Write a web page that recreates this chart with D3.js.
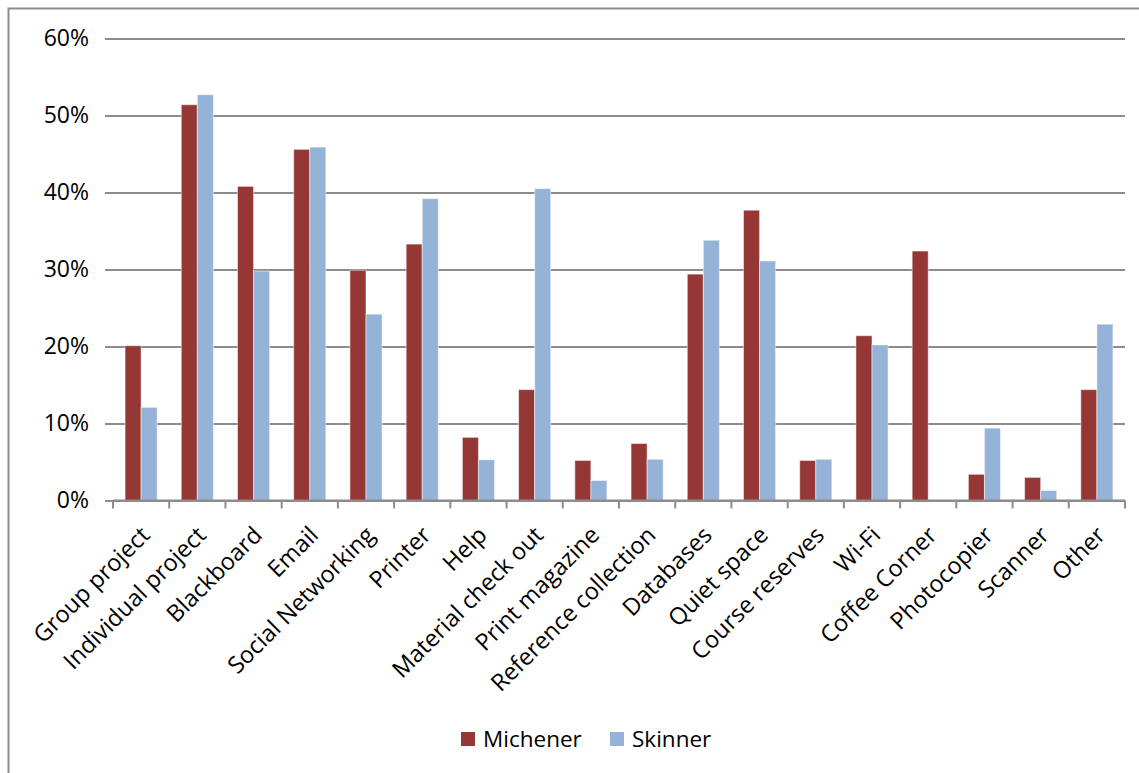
<!DOCTYPE html>
<html>
<head>
<meta charset="utf-8">
<script src="https://cdn.jsdelivr.net/npm/d3@7"></script>
<style>
  body { margin: 0; background: #fff; }
  svg { display: block; }
</style>
</head>
<body>
<div id="vis"></div>
<script>
// values (percent)
let categories = ["Group project", "Individual project", "Blackboard", "Email", "Social Networking",
  "Printer", "Help", "Material check out", "Print magazine", "Reference collection", "Databases",
  "Quiet space", "Course reserves", "Wi-Fi", "Coffee Corner", "Photocopier", "Scanner", "Other"];
let michener = [20.1, 51.4, 40.8, 45.6, 29.9, 33.3, 8.2, 14.4, 5.2, 7.4, 29.4, 37.7, 5.2, 21.4, 32.4, 3.4, 3.0, 14.4];
let skinner = [12.1, 52.7, 29.8, 45.9, 24.2, 39.2, 5.3, 40.5, 2.6, 5.35, 33.8, 31.1, 5.35, 20.2, 0, 9.4, 1.3, 22.9];
let series = ["Michener", "Skinner"];
let colors = ["#953735", "#95b3d7"];
let yTicks = [0, 10, 20, 30, 40, 50, 60];

let W = 1139, H = 773;
let margin = { top: 38.5, left: 113, right: 14, bottom: 272.5 };

let svg = d3.select('#vis')
  .append('svg')
  .attr('width', W)
  .attr('height', H);

// outer chart border
svg.append('rect')
  .attr('x', 8.5).attr('y', 8.5)
  .attr('width', W + 20).attr('height', H + 20)
  .attr('fill', 'none')
  .attr('stroke', '#8c8c8c')
  .attr('stroke-width', 2);

let x = d3.scaleBand().domain(categories).range([margin.left, W - margin.right]);
let x1 = d3.scaleBand().domain(series).range([0, x.bandwidth()]).paddingInner(0).paddingOuter(0.75);
let y = d3.scaleLinear().domain([0, 60]).range([H - margin.bottom, margin.top]);

// gridlines + y axis
let yAxis = svg.append('g')
  .attr('transform', 'translate(' + margin.left + ',0)')
  .call(d3.axisLeft(y).tickValues(yTicks).tickFormat(d => d + '%').tickSize(8).tickPadding(16));
yAxis.select('.domain').remove();
yAxis.selectAll('.tick line').attr('stroke', '#8c8c8c').attr('stroke-width', 2);
yAxis.selectAll('.tick').append('line')
  .attr('x1', 0).attr('x2', W - margin.right - margin.left)
  .attr('stroke', '#8c8c8c').attr('stroke-width', 2);
yAxis.selectAll('text')
  .style('font-family', 'Open Sans')
  .style('font-size', '23px')
  .attr('fill', '#000');

// bars
let groups = svg.append('g')
  .selectAll('g')
  .data(categories)
  .enter()
  .append('g')
  .attr('transform', d => 'translate(' + x(d) + ',0)');

groups.selectAll('rect')
  .data((d, i) => [michener[i], skinner[i]].map((v, j) => ({ s: series[j], v: v, c: colors[j] })))
  .enter()
  .append('rect')
  .filter(d => d.v > 0)
  .attr('x', d => x1(d.s))
  .attr('y', d => y(d.v))
  .attr('width', x1.bandwidth())
  .attr('height', d => y(0) - y(d.v))
  .attr('fill', d => d.c)
  .attr('stroke', 'rgba(255,255,255,0.5)')
  .attr('stroke-width', 1);

// x axis
let xAxis = svg.append('g')
  .attr('transform', 'translate(0,' + y(0) + ')')
  .call(d3.axisBottom(x).tickSize(0).tickFormat(''));
xAxis.select('.domain')
  .attr('d', 'M' + margin.left + ',0H' + (W - margin.right))
  .attr('stroke', '#8c8c8c').attr('stroke-width', 2);

svg.append('g')
  .selectAll('line')
  .data(categories.concat(['end']))
  .enter()
  .append('line')
  .attr('x1', (d, i) => margin.left + i * x.step())
  .attr('x2', (d, i) => margin.left + i * x.step())
  .attr('y1', y(0)).attr('y2', y(0) + 8)
  .attr('stroke', '#8c8c8c').attr('stroke-width', 2);

svg.append('g')
  .selectAll('text')
  .data(categories)
  .enter()
  .append('text')
  .attr('text-anchor', 'end')
  .attr('transform', d => 'translate(' + (x(d) + x.bandwidth() / 2 + 10) + ',' + (y(0) + 36) + ')rotate(-45)')
  .style('font-family', 'Open Sans')
  .style('font-size', '23.5px')
  .attr('fill', '#000')
  .text(d => d);

// legend
let legendX = [461, 610];
let legend = svg.append('g')
  .selectAll('g')
  .data(series)
  .enter()
  .append('g')
  .attr('transform', (d, i) => 'translate(' + legendX[i] + ',732)');
legend.append('rect')
  .attr('width', 14).attr('height', 14)
  .attr('fill', (d, i) => colors[i]);
legend.append('text')
  .attr('x', 22).attr('y', 15)
  .style('font-family', 'Open Sans')
  .style('font-size', '22.5px')
  .attr('fill', '#000')
  .text(d => d);
</script>
</body>
</html>
